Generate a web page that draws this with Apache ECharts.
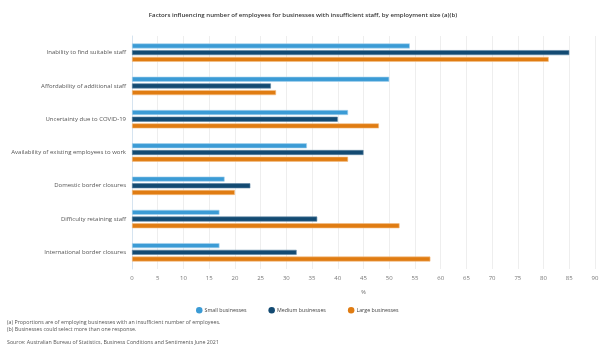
<!DOCTYPE html>
<html>
<head>
<meta charset="utf-8">
<script src="https://cdn.jsdelivr.net/npm/echarts@6/dist/echarts.min.js"></script>
<style>html,body{margin:0;padding:0;background:#fff}#c{width:606px;height:356px}</style>
</head>
<body>
<div id="c"></div>
<script>
var categories = [
  "Inability to find suitable staff",
  "Affordability of additional staff",
  "Uncertainty due to COVID-19",
  "Availability of existing employees to work",
  "Domestic border closures",
  "Difficulty retaining staff",
  "International border closures"
];
var smallBusinesses = [54, 50, 42, 34, 18, 17, 17];
var mediumBusinesses = [85, 27, 40, 45, 23, 36, 32];
var largeBusinesses = [81, 28, 48, 42, 20, 52, 58];
var seriesNames = ["Small businesses", "Medium businesses", "Large businesses"];
var titleText = "Factors influencing number of employees for businesses with insufficient staff, by employment size (a)(b)";
var footnotes = [
  "(a) Proportions are of employing businesses with an insufficient number of employees.",
  "(b) Businesses could select more than one response."
];
var sourceText = "Source: Australian Bureau of Statistics, Business Conditions and Sentiments June 2021";

var FONT = "'Open Sans', 'Noto Sans', sans-serif";
var colors = ["#3b9bd5", "#134a72", "#e07c12"];
var borders = ["#a9d3ef", "#5d84a3", "#f3bf86"];

var chart = echarts.init(document.getElementById('c'), null, {renderer: 'canvas'});
function mk(name, data, i) {
  return {
    name: name, type: 'bar', data: data,
    barWidth: 5, barGap: '34%',
    itemStyle: {color: colors[i], borderColor: borders[i], borderWidth: 0.6},
    emphasis: {disabled: true}
  };
}
chart.setOption({
  animation: false,
  color: colors,
  title: {
    text: titleText, left: 'center', top: 7,
    textStyle: {fontFamily: FONT, fontSize: 6.1, fontWeight: 600, color: '#333'}
  },
  grid: {left: 132, right: 11, top: 36, bottom: 87, containLabel: false},
  legend: {
    data: seriesNames, left: 191, top: 302, icon: 'circle',
    itemWidth: 6.5, itemHeight: 6.5, itemGap: 22,
    itemStyle: {borderWidth: 0},
    textStyle: {fontFamily: FONT, fontSize: 5.3, color: '#444', padding: [0, 0, 0, -3]}
  },
  xAxis: {
    type: 'value', min: 0, max: 90, interval: 5,
    name: '%', nameLocation: 'middle', nameGap: 20,
    nameTextStyle: {fontFamily: FONT, fontSize: 5.5, color: '#666'},
    axisLine: {show: false}, axisTick: {show: false},
    axisLabel: {fontFamily: FONT, fontSize: 6, color: '#777', margin: 6},
    splitLine: {lineStyle: {color: '#eeeeee', width: 1}}
  },
  yAxis: {
    type: 'category', data: categories, inverse: true,
    axisLine: {lineStyle: {color: '#d6e4f0'}}, axisTick: {show: false},
    axisLabel: {fontFamily: FONT, fontSize: 6, color: '#555', margin: 6}
  },
  series: [
    mk(seriesNames[0], smallBusinesses, 0),
    mk(seriesNames[1], mediumBusinesses, 1),
    mk(seriesNames[2], largeBusinesses, 2)
  ],
  graphic: [
    {type: 'text', left: 7, top: 320, style: {text: footnotes[0], fontFamily: FONT, fontSize: 5.3, fill: '#555'}},
    {type: 'text', left: 7, top: 327, style: {text: footnotes[1], fontFamily: FONT, fontSize: 5.3, fill: '#555'}},
    {type: 'text', left: 7, top: 340, style: {text: sourceText, fontFamily: FONT, fontSize: 5.3, fill: '#555'}}
  ]
});
</script>
</body>
</html>
